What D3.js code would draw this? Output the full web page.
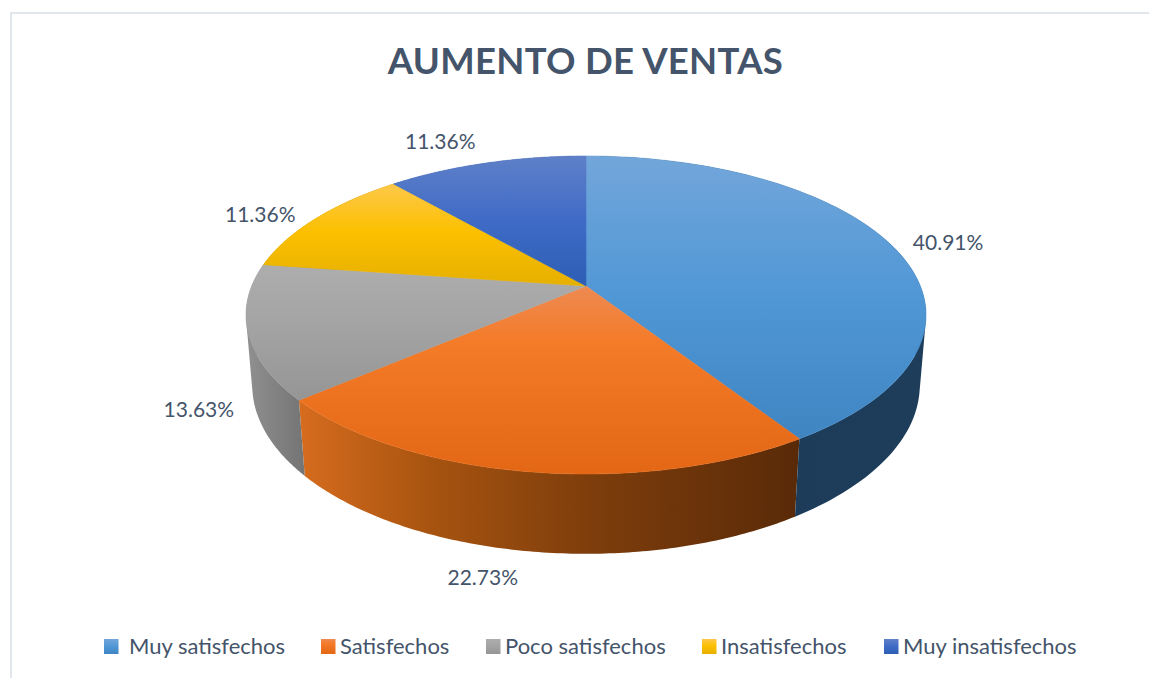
<!DOCTYPE html>
<html><head><meta charset="utf-8">
<script src="https://cdn.jsdelivr.net/npm/d3@7"></script>
<style>html,body{margin:0;padding:0;background:#fff}svg{display:block}text{font-family:Lato,"Open Sans",sans-serif;fill:#44546a}</style>
</head><body><div id="c"></div>
<script>
const categories = ["Muy satisfechos","Satisfechos","Poco satisfechos","Insatisfechos","Muy insatisfechos"];
const values = [40.91,22.73,13.63,11.36,11.36];
const valueLabels = ["40.91%","22.73%","13.63%","11.36%","11.36%"];
const topStops = [
  [[0,"#72a6da"],[0.5,"#5097d6"],[1,"#3f85c2"]],
  [[0,"#ee8a52"],[0.3,"#f47b28"],[1,"#e36715"]],
  [[0,"#adadad"],[0.4,"#a5a5a5"],[1,"#959595"]],
  [[0,"#fdc84a"],[0.47,"#fcc000"],[1,"#e6b000"]],
  [[0,"#5f80c8"],[0.5,"#3f6bc6"],[1,"#2c5eb4"]]
];
const wallStops = [
  [[0,"#1b3a57"],[1,"#1d3d5b"]],
  [[0,"#d66c1e"],[0.26,"#a85410"],[0.57,"#7f3e0c"],[1,"#592a08"]],
  [[0,"#909090"],[1,"#747474"]],
  [[0,"#b58800"],[1,"#8a6700"]],
  [[0,"#2a4a8a"],[1,"#203a70"]]
];
const labelOffsets = [[57,-2],[-45,106],[-49,78],[-56,-4],[-46,-21]];
const legendSwatchX = [104,321,486,702,884];
const legendTextX = [129,340,505,721,903];

const W=1149,H=678;
const svg=d3.select("#c").append("svg").attr("width",W).attr("height",H);
const defs=svg.append("defs");

// perspective projection of the pie disc
const P={cx:586,A:334.3,a:286,b:101.55,c:-0.1824,d:0.018,e:75.2};
function project(theta,h,r=1){
  const u=r*Math.sin(theta),v=-r*Math.cos(theta),den=1+P.c*v+P.d*h;
  return [P.cx+P.A*u/den,(P.a+P.b*v+P.e*h)/den];
}
const pie=d3.pie().sort(null).startAngle(0).endAngle(2*Math.PI)(values);
const line=d3.line();
const arcSamples=(s,e,h)=>d3.range(0,121).map(i=>project(s+(e-s)*i/120,h));

// frame
svg.append("path").attr("d",`M${W},13H11V${H}`).attr("fill","none").attr("stroke","#e1e5ec").attr("stroke-width",2);

function grad(id,stops,x2,y2){
  const g=defs.append("linearGradient").attr("id",id).attr("x1",0).attr("y1",0).attr("x2",x2).attr("y2",y2);
  stops.forEach(s=>g.append("stop").attr("offset",s[0]).attr("stop-color",s[1]));
}
categories.forEach((c,i)=>{grad("t"+i,topStops[i],0,1);grad("w"+i,wallStops[i],1,0);});

// walls, back to front; each strip is a union of consistently wound quads
function wallPath(d){
  const top=arcSamples(d.startAngle,d.endAngle,0),bot=arcSamples(d.startAngle,d.endAngle,1);
  let out="";
  for(let k=0;k<top.length-1;k++){
    const q=[top[k],top[k+1],bot[k+1],bot[k]];
    if(d3.polygonArea(q)<0) q.reverse();
    out+=line(q)+"Z";
  }
  return out;
}
const order=pie.map((d,i)=>i).sort((a,b)=>
  -Math.cos((pie[b].startAngle+pie[b].endAngle)/2)+Math.cos((pie[a].startAngle+pie[a].endAngle)/2));
svg.append("g").selectAll("path").data(order).join("path")
  .attr("d",i=>wallPath(pie[i]))
  .attr("fill",i=>`url(#w${i})`);

// top face
svg.append("g").selectAll("path").data(pie).join("path")
  .attr("d",d=>line([project(0,0,0),...arcSamples(d.startAngle,d.endAngle,0)])+"Z")
  .attr("fill",(d,i)=>`url(#t${i})`)
  .attr("stroke",(d,i)=>`url(#t${i})`).attr("stroke-width",0.6).attr("stroke-linejoin","round");

// data labels
svg.append("g").selectAll("text").data(pie).join("text")
  .attr("transform",(d,i)=>{const p=project((d.startAngle+d.endAngle)/2,0);
    return `translate(${p[0]+labelOffsets[i][0]},${p[1]+labelOffsets[i][1]})`;})
  .attr("text-anchor","middle").attr("dy","0.35em").attr("font-size",21)
  .text((d,i)=>valueLabels[i]);

// title
svg.append("text").attr("x",585.5).attr("y",73.5).attr("text-anchor","middle")
  .attr("font-size",36.5).attr("letter-spacing",0.3).attr("font-weight",700).text("AUMENTO DE VENTAS");

// legend
const lg=svg.append("g");
lg.selectAll("rect").data(categories).join("rect")
  .attr("x",(d,i)=>legendSwatchX[i]).attr("y",639).attr("width",14.5).attr("height",15)
  .attr("fill",(d,i)=>`url(#t${i})`);
lg.selectAll("text").data(categories).join("text")
  .attr("x",(d,i)=>legendTextX[i]).attr("y",654).attr("font-size",22).text(d=>d);
</script></body></html>
